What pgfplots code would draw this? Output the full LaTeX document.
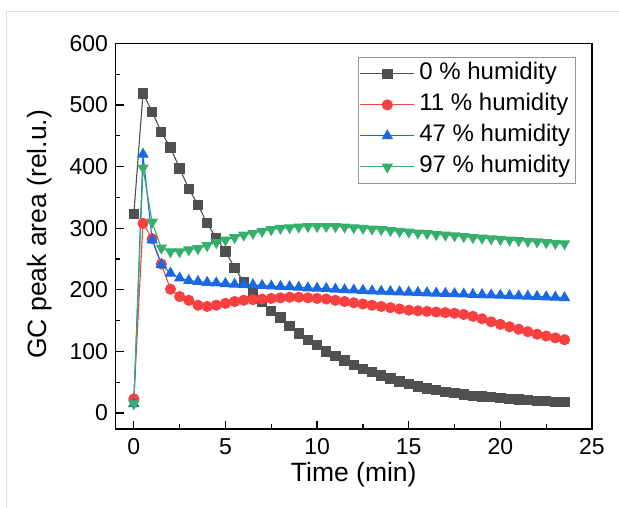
\documentclass[border=0pt]{standalone}
\usepackage{pgfplots}
\pgfplotsset{compat=1.18}
\usepackage{fontspec}
\setmainfont{Liberation Sans}
\definecolor{cgray}{RGB}{80,80,80}
\definecolor{cred}{RGB}{248,64,64}
\definecolor{cblue}{RGB}{25,105,225}
\definecolor{cgreen}{RGB}{52,176,108}
\definecolor{legbord}{RGB}{150,150,140}
\begin{document}
\begin{tikzpicture}
\path[use as bounding box] (-115.5pt,-78pt) rectangle (503.5pt,429pt);
\draw[gray!25, line width=1pt] (-108.5pt,-80pt) -- (-108.5pt,417pt) -- (506pt,417pt);
\begin{axis}[
  scale only axis,
  width=476.5pt, height=385.5pt,
  xmin=-1, xmax=25, ymin=-26, ymax=600,
  xtick={0,5,10,15,20,25}, ytick={0,100,200,300,400,500,600},
  minor x tick num=1, minor y tick num=1,
  tick align=inside, xtick pos=bottom, ytick pos=left,
  major tick length=8pt, minor tick length=5pt,
  axis line style={line width=1.4pt},
  every tick/.style={black, line width=1.2pt},
  /pgf/number format/assume math mode=true,
  ticklabel style={font=\fontsize{23}{27}\selectfont},
  yticklabel style={xshift=-4pt},
  xticklabel style={yshift=-6pt},
  xlabel={Time (min)},
  ylabel={GC peak area (rel.u.)},
  label style={font=\fontsize{26.5}{30}\selectfont},
  xlabel style={at={(axis description cs:0.5,-0.135)}, anchor=base},
  ylabel style={at={(axis description cs:-0.145,0.505)}, anchor=base},
  legend style={at={(axis description cs:0.9665,0.965)}, anchor=north east,
    draw=legbord, line width=0.8pt, font=\fontsize{24}{28}\selectfont,
    nodes={text height=17pt, text depth=5pt, inner sep=4.5pt},
    row sep=0pt, inner sep=1pt},
  legend cell align=left,
  legend image code/.code={\draw[mark repeat=2,mark phase=2] plot coordinates {(0pt,0pt) (27pt,0pt) (54pt,0pt)};},
  every axis plot/.append style={line width=1.1pt},
]
\addplot[cgray, mark=square*, mark size=4.6pt, mark options={solid, fill=cgray}] coordinates {
(0,323) (0.5,519) (1,489) (1.5,456) (2,431) (2.5,397) (3,364) (3.5,338) (4,308) (4.5,284)
(5,262) (5.5,236) (6,212) (6.5,195) (7,180) (7.5,166) (8,155) (8.5,141) (9,129) (9.5,118)
(10,110) (10.5,100) (11,92) (11.5,85) (12,78) (12.5,71) (13,66) (13.5,61) (14,56) (14.5,51)
(15,47) (15.5,43) (16,40) (16.5,37) (17,34) (17.5,32) (18,30) (18.5,28) (19,27) (19.5,26)
(20,24) (20.5,23) (21,22) (21.5,21) (22,20) (22.5,19) (23,18) (23.5,18)};
\addlegendentry{0 \% humidity}
\addplot[cred, mark=*, mark size=5pt, mark options={solid, fill=cred}] coordinates {
(0,23) (0.5,308) (1,283) (1.5,242) (2,201) (2.5,189) (3,183) (3.5,175) (4,173) (4.5,175)
(5,178) (5.5,181) (6,183) (6.5,184) (7,185) (7.5,186) (8,187) (8.5,188) (9,188) (9.5,187)
(10,186) (10.5,185) (11,183) (11.5,181) (12,179) (12.5,177) (13,175) (13.5,173) (14,171) (14.5,169)
(15,167) (15.5,166) (16,165) (16.5,164) (17,163) (17.5,162) (18,160) (18.5,157) (19,153) (19.5,148)
(20,144) (20.5,140) (21,136) (21.5,132) (22,128) (22.5,125) (23,122) (23.5,119)};
\addlegendentry{11 \% humidity}
\addplot[cblue, mark=triangle*, mark size=5.6pt, mark options={solid, fill=cblue}] coordinates {
(0,15) (0.5,420) (1,281) (1.5,241) (2,227) (2.5,219) (3,215) (3.5,213.5) (4,212) (4.5,211)
(5,210) (5.5,209) (6,208.5) (6.5,208) (7,207) (7.5,206) (8,205.5) (8.5,205) (9,204) (9.5,203)
(10,202.5) (10.5,202) (11,201) (11.5,200) (12,199.5) (12.5,199) (13,198) (13.5,197.5) (14,197) (14.5,196.5)
(15,196) (15.5,195.5) (16,195) (16.5,194.5) (17,194) (17.5,193.5) (18,193) (18.5,192.5) (19,192) (19.5,191.5)
(20,191) (20.5,190.5) (21,190) (21.5,189.5) (22,189) (22.5,188.5) (23,188) (23.5,187)};
\addlegendentry{47 \% humidity}
\addplot[cgreen, mark=triangle*, mark size=5.6pt, mark options={solid, fill=cgreen, rotate=180}] coordinates {
(0,15) (0.5,398) (1,310) (1.5,268) (2,262) (2.5,262) (3,265) (3.5,267) (4,272) (4.5,277)
(5,281) (5.5,285) (6,289) (6.5,292) (7,295) (7.5,298) (8,300) (8.5,301) (9,302) (9.5,303)
(10,303) (10.5,303) (11,303) (11.5,302) (12,301) (12.5,300) (13,299) (13.5,298) (14,296.5) (14.5,295)
(15,294) (15.5,292.5) (16,291.5) (16.5,290) (17,289) (17.5,288) (18,286.5) (18.5,285) (19,284) (19.5,283)
(20,282) (20.5,281) (21,280) (21.5,279) (22,278) (22.5,277) (23,275.5) (23.5,275)};
\addlegendentry{97 \% humidity}
\end{axis}
\end{tikzpicture}
\end{document}
